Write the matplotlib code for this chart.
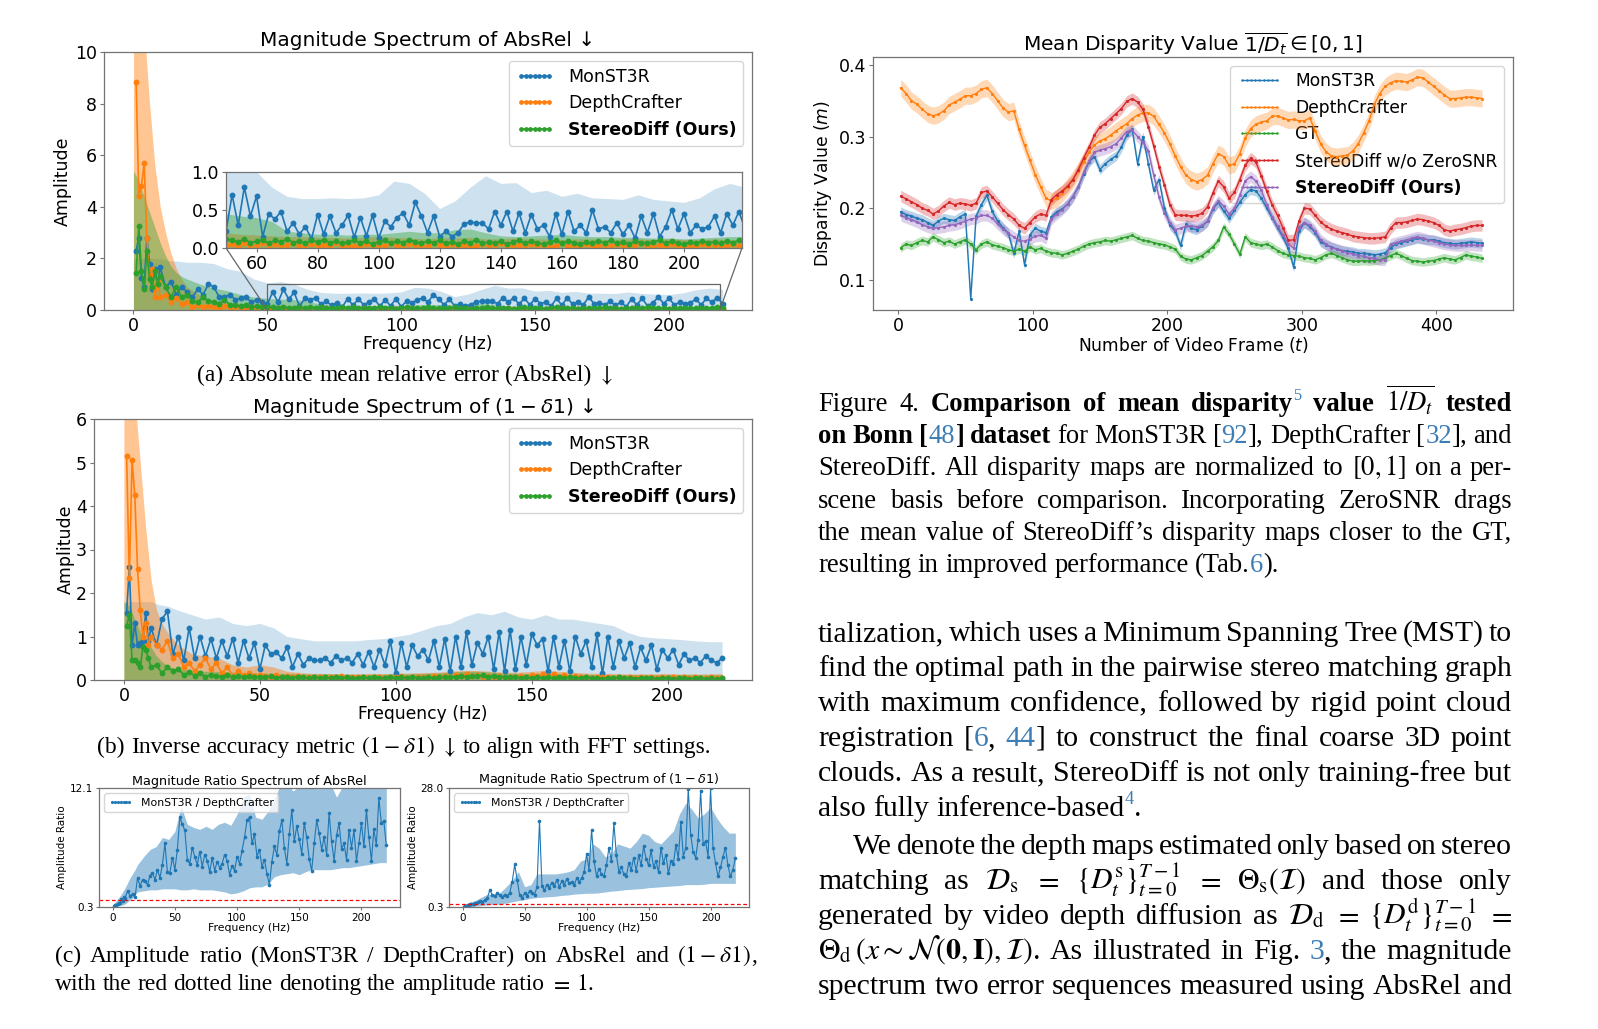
import numpy as np
import matplotlib
matplotlib.use("Agg")
import matplotlib.pyplot as plt
from mpl_toolkits.axes_grid1.inset_locator import mark_inset

W, H = 1598, 1029

# frequency grids (Hz): lines are sampled at FREQ, the std bands at BAND_F
FREQ = np.r_[1:11, 12:221:2]
BAND_F = np.r_[0:21:2, 25:221:5]
# video frames for the disparity plot
FRAMES = np.arange(2, 438, 4)

# ---- (a) magnitude spectrum of AbsRel ----
A_MON = [2.3, 2.8, 1.25, 0.9, 2.8, 1.8, 0.8, 1.6, 1.0, 1.65,
         0.9, 1.1, 0.6, 0.9, 0.7, 0.5, 0.8, 0.6, 1.0, 0.9,
         0.5, 0.5, 0.6, 0.4, 0.45, 0.5, 0.3, 0.4, 0.3, 0.22,
         .70, .30, .80, .42, .68, .15, .45, .38, .48, .22,
         .33, .18, .28, .12, .44, .18, .42, .20, .30, .43,
         .14, .40, .16, .43, .13, .35, .28, .40, .46, .30,
         .60, .42, .20, .42, .15, .22, .15, .20, .32, .34,
         .33, .33, .25, .48, .30, .48, .22, .46, .20, .44,
         .25, .30, .15, .45, .18, .48, .22, .30, .20, .50,
         .25, .28, .20, .33, .18, .30, .13, .42, .20, .45,
         .15, .28, .50, .25, .45, .20, .30, .25, .28, .42,
         .20, .45, .30, .48, .25]
A_DC = [8.85, 4.4, 4.8, 5.7, 2.8, 1.2, 1.6, 0.5, 1.1, 0.5,
        0.6, 0.3, 0.45, 0.25, 0.3, 0.12, 0.2, 0.1, 0.15, 0.12,
        0.08, 0.15, 0.1, 0.12, 0.08, 0.06, 0.1, 0.05, 0.07, 0.04,
        .05, .03, .06, .02, .04, .07, .03, .05, .02, .04,
        .06, .03, .02, .05, .03, .04, .02, .06, .03, .04,
        .02, .03, .05, .02, .04, .03, .06, .02, .03, .05,
        .04, .02, .03, .06, .04, .03, .05, .02, .04, .03,
        .02, .05, .03, .04, .06, .02, .03, .04, .02, .05,
        .03, .04, .02, .03, .06, .02, .04, .03, .05, .02,
        .03, .04, .02, .05, .03, .02, .04, .06, .03, .02,
        .04, .03, .05, .02, .03, .04, .02, .05, .03, .04,
        .02, .03, .05, .02, .03]
A_SD = [1.45, 3.25, 1.5, 0.8, 2.3, 1.2, 0.9, 1.5, 1.0, 1.3,
        0.9, 0.5, 0.9, 0.5, 0.6, 0.35, 0.3, 0.5, 0.35, 0.3,
        0.25, 0.4, 0.2, 0.2, 0.15, 0.18, 0.12, 0.14, 0.1, 0.12,
        .10, .08, .12, .07, .09, .11, .06, .10, .08, .12,
        .07, .09, .06, .10, .08, .11, .07, .09, .06, .08,
        .10, .07, .09, .05, .08, .10, .06, .09, .07, .11,
        .08, .06, .09, .07, .10, .06, .08, .05, .09, .07,
        .11, .06, .08, .07, .09, .05, .08, .10, .06, .09,
        .07, .05, .08, .10, .06, .09, .07, .05, .08, .06,
        .09, .07, .10, .06, .08, .05, .09, .07, .06, .08,
        .10, .06, .09, .07, .05, .08, .06, .09, .07, .08,
        .06, .09, .07, .10, .08]
A_MON_HI = [2.0, 2.0, 2.0, 2.0, 2.0, 2.0, 1.95, 1.9, 1.9, 1.88, 1.85,
            1.85, 1.8, 1.6, 1.5, 1.2, 1.05, 1.1, 1.0, 0.8, 0.68,
            0.65, 0.65, 0.66, 0.65, 0.66, 0.7, 0.88, 0.85, 0.72, 0.52,
            0.62, 0.8, 0.95, 0.85, 0.86, 0.73, 0.76, 0.68, 0.72, 0.66,
            0.65, 0.64, 0.7, 0.64, 0.62, 0.6, 0.66, 0.78, 0.85, 0.8]
A_DC_HI = [12, 12, 11, 8.0, 5.6, 4.0, 3.0, 2.2, 1.6, 1.2, 0.9,
           0.55, 0.38, 0.3, 0.25, 0.22, 0.2, 0.18, 0.17, 0.16, 0.15,
           0.15, 0.14, 0.14, 0.13, 0.14, 0.15, 0.14, 0.13, 0.12, 0.13,
           0.13, 0.14, 0.12, 0.12, 0.13, 0.12, 0.12, 0.11, 0.12, 0.12,
           0.11, 0.12, 0.12, 0.11, 0.12, 0.11, 0.11, 0.12, 0.11, 0.11]
A_SD_HI = [5.4, 5.0, 4.4, 3.8, 3.2, 2.6, 2.1, 1.7, 1.45, 1.3, 1.2,
           1.0, 0.85, 0.75, 0.6, 0.5, 0.45, 0.42, 0.4, 0.35, 0.22,
           0.2, 0.18, 0.18, 0.17, 0.18, 0.18, 0.2, 0.22, 0.2, 0.2,
           0.24, 0.25, 0.2, 0.16, 0.15, 0.16, 0.17, 0.18, 0.16, 0.15,
           0.15, 0.14, 0.14, 0.13, 0.13, 0.12, 0.13, 0.14, 0.15, 0.15]

# ---- (b) magnitude spectrum of (1 - delta1) ----
B_MON = [1.55, 2.6, 0.8, 1.3, 0.8, 0.85, 0.9, 1.55, 0.9, 1.2,
         0.8, 1.4, 1.58, 0.6, 1.0, 0.45, 1.2, 0.5, 1.0, 0.55,
         0.95, 0.5, 0.9, 0.55, 0.95, 0.4, 0.9, 0.5, 0.85, 0.25,
         .8, .6, .65, .5, .75, .3, .6, .35, .5, .45,
         .45, .5, .4, .55, .45, .5, .4, .6, .35, .65,
         .3, .7, .35, .9, .15, .85, .3, .8, .55, .7,
         .45, .9, .3, .95, .2, 1.0, .3, 1.1, .35, .85,
         .6, 1.0, .25, 1.1, .2, 1.15, .25, 1.0, .35, 1.05,
         .8, .95, .2, 1.0, .3, .9, .2, 1.0, .6, .9,
         .3, 1.05, .15, 1.0, .3, .9, .5, .85, .3, .75,
         .45, .8, .25, .7, .5, .7, .35, .6, .45, .5,
         .4, .55, .45, .4, .5]
B_DC = [5.15, 2.35, 5.05, 4.25, 2.55, 1.6, 1.0, 1.3, 0.8, 1.0,
        0.8, 0.7, 0.9, 0.5, 0.6, 0.3, 0.4, 0.2, 0.35, 0.5,
        0.25, 0.4, 0.15, 0.3, 0.1, 0.2, 0.12, 0.15, 0.1, 0.12,
        .10, .08, .12, .06, .09, .07, .10, .05, .08, .06,
        .07, .05, .08, .06, .09, .05, .07, .06, .08, .05,
        .06, .08, .05, .07, .06, .09, .05, .07, .06, .08,
        .06, .09, .07, .10, .08, .12, .10, .13, .09, .11,
        .08, .10, .07, .09, .06, .08, .07, .10, .08, .12,
        .09, .13, .10, .14, .08, .11, .07, .09, .06, .08,
        .05, .07, .06, .08, .05, .07, .04, .06, .05, .07,
        .04, .06, .05, .07, .04, .06, .05, .08, .04, .06,
        .05, .04, .06, .05, .04]
B_SD = [1.25, 1.5, 0.45, 0.45, 0.4, 0.3, 0.75, 0.7, 0.5, 0.3,
        0.35, 0.15, 0.3, 0.2, 0.25, 0.12, 0.18, 0.1, 0.15, 0.08,
        0.12, 0.1, 0.08, 0.12, 0.07, 0.1, 0.06, 0.09, 0.07, 0.08,
        .06, .09, .05, .08, .07, .05, .08, .06, .04, .07,
        .05, .06, .04, .07, .05, .06, .04, .05, .07, .04,
        .06, .05, .04, .06, .05, .07, .04, .06, .05, .04,
        .06, .05, .07, .06, .08, .07, .09, .08, .10, .09,
        .11, .08, .10, .07, .08, .06, .07, .05, .06, .05,
        .07, .05, .06, .04, .06, .05, .07, .04, .05, .06,
        .04, .05, .03, .05, .04, .06, .04, .05, .03, .05,
        .04, .05, .03, .04, .05, .03, .04, .05, .03, .04,
        .05, .03, .04, .03, .04]
B_MON_HI = [1.8, 1.8, 1.8, 1.8, 1.8, 1.8, 1.75, 1.72, 1.7, 1.65, 1.6,
            1.5, 1.4, 1.45, 1.3, 1.25, 1.3, 1.2, 1.0, 0.95, 0.9,
            0.9, 0.9, 0.9, 0.93, 0.95, 1.0, 1.05, 1.15, 1.25, 1.3,
            1.45, 1.55, 1.5, 1.58, 1.45, 1.4, 1.5, 1.4, 1.4, 1.35,
            1.3, 1.25, 1.1, 1.0, 0.97, 0.95, 0.93, 0.9, 0.88, 0.88]
B_DC_HI = [7.0, 7.0, 6.5, 5.0, 3.5, 2.3, 1.6, 1.3, 1.1, 0.95, 0.8,
           0.6, 0.55, 0.5, 0.35, 0.3, 0.35, 0.3, 0.2, 0.17, 0.15,
           0.15, 0.14, 0.14, 0.15, 0.15, 0.15, 0.16, 0.17, 0.18, 0.2,
           0.22, 0.22, 0.2, 0.18, 0.18, 0.2, 0.22, 0.2, 0.18, 0.16,
           0.15, 0.15, 0.14, 0.14, 0.14, 0.15, 0.14, 0.14, 0.14, 0.15]
B_SD_HI = [1.8, 1.7, 1.4, 1.1, 0.95, 0.75, 0.55, 0.42, 0.33, 0.28, 0.25,
           0.22, 0.2, 0.2, 0.18, 0.17, 0.16, 0.15, 0.15, 0.14, 0.14,
           0.14, 0.13, 0.13, 0.13, 0.13, 0.14, 0.14, 0.15, 0.16, 0.18,
           0.2, 0.2, 0.18, 0.16, 0.15, 0.15, 0.14, 0.14, 0.13, 0.13,
           0.12, 0.12, 0.12, 0.12, 0.12, 0.12, 0.12, 0.12, 0.12, 0.12]

# ---- (c) amplitude ratio MonST3R / DepthCrafter ----
C_ABS = [0.4, 0.5, 0.45, 0.6, 0.7, 0.65, 1.1, 0.9, 1.3, 1.2,
         1.9, 1.4, 1.6, 1.3, 3.2, 2.4, 3.0, 2.85, 2.5, 3.4,
         3.7, 3.0, 4.0, 3.2, 4.5, 6.6, 3.8, 3.7, 5.2, 4.0,
         6.0, 9.2, 8.5, 7.9, 5.0, 4.6, 6.2, 5.3, 4.5, 5.8,
         4.3, 5.5, 4.9, 3.8, 5.2, 3.9, 4.8, 4.2, 4.6, 5.5,
         4.9, 3.5, 4.4, 3.9, 5.3, 4.6, 5.9, 7.2, 8.9, 9.2,
         6.6, 7.5, 5.3, 6.0, 4.3, 5.0, 3.6, 2.5, 4.8, 6.3,
         5.5, 7.8, 8.9, 6.2, 4.6, 7.5, 9.9, 6.8, 8.3, 7.0,
         5.6, 8.6, 7.2, 5.1, 3.9, 6.6, 8.9, 7.6, 6.0, 7.2,
         5.5, 9.6, 6.8, 4.9, 7.4, 8.6, 6.1, 6.6, 5.0, 7.9,
         6.2, 7.9, 4.9, 6.6, 8.6, 6.3, 9.9, 7.2, 4.9, 8.0,
         6.4, 11.1, 8.6, 8.8, 6.4]
C_DEL = [0.4, 0.5, 0.6, 0.7, 0.8, 0.9, 1.0, 1.1, 1.0, 1.3,
         1.4, 1.6, 1.5, 2.0, 2.5, 4.3, 3.0, 2.8, 3.5, 3.0,
         2.6, 3.2, 2.9, 3.6, 6.2, 10.2, 6.6, 3.0, 2.4, 3.5,
         2.9, 4.0, 3.6, 3.2, 5.0, 20.4, 5.1, 4.2, 5.5, 4.8,
         6.0, 5.2, 6.6, 5.0, 6.3, 5.5, 6.8, 5.8, 6.2, 5.4,
         7.0, 6.2, 7.0, 8.5, 12.6, 9.0, 18.3, 11.0, 7.5, 9.2,
         8.0, 7.4, 10.0, 14.1, 11.0, 19.8, 12.5, 8.5, 9.6, 8.0,
         7.4, 10.5, 9.0, 11.8, 8.6, 12.4, 10.0, 14.4, 11.5, 10.0,
         13.5, 9.6, 11.0, 8.4, 14.1, 10.5, 12.5, 8.1, 11.0, 10.2,
         14.8, 11.5, 20.1, 12.0, 14.1, 27.8, 17.1, 13.0, 11.8, 16.0,
         27.4, 15.0, 15.6, 12.0, 28.0, 14.1, 10.5, 7.4, 9.5, 12.0,
         14.1, 10.0, 7.4, 9.0, 11.6]
C_ABS_HI = [0.5, 0.8, 1.1, 1.4, 1.8, 2.2, 2.7, 3.2, 3.6, 4.0, 4.5,
            5.3, 6.0, 6.3, 7.2, 7.0, 7.8, 10.3, 8.5, 8.2, 8.0,
            8.3, 8.0, 8.5, 8.7, 8.4, 9.5, 11.2, 11.5, 9.2, 9.0,
            9.8, 11.0, 12.5, 12.5, 11.8, 12.3, 12.5, 12.5, 12.0, 12.5,
            12.5, 11.2, 12.3, 12.5, 12.5, 12.5, 12.5, 12.5, 12.5, 12.5]
C_ABS_LO = [0.3, 0.35, 0.4, 0.45, 0.5, 0.6, 0.8, 1.0, 1.2, 1.5, 1.8,
            1.9, 2.0, 2.0, 2.1, 2.1, 2.1, 2.0, 2.0, 2.1, 2.0,
            2.0, 2.0, 1.9, 1.8, 1.6, 1.7, 1.9, 2.2, 2.3, 2.3,
            2.6, 3.3, 3.5, 3.6, 3.7, 3.5, 3.8, 4.0, 4.0, 4.0,
            4.0, 4.1, 4.2, 4.2, 4.3, 4.4, 4.5, 4.6, 4.7, 4.7]
C_DEL_HI = [0.8, 1.0, 1.2, 1.4, 1.6, 1.8, 2.1, 2.4, 2.7, 3.0, 3.2,
            3.4, 3.6, 5.0, 6.5, 8.5, 5.0, 5.5, 8.0, 8.0, 8.0,
            8.0, 8.2, 8.5, 9.0, 11.0, 11.5, 15.0, 14.0, 12.0, 12.5,
            15.0, 14.5, 14.0, 15.5, 17.5, 17.0, 15.5, 15.0, 16.5, 18.0,
            22.0, 24.5, 23.0, 21.0, 22.0, 23.5, 21.0, 19.0, 17.5, 17.5]
C_DEL_LO = [0.3, 0.3, 0.35, 0.4, 0.45, 0.5, 0.55, 0.6, 0.7, 0.75, 0.8,
            0.9, 1.0, 1.2, 1.5, 1.8, 2.0, 2.3, 2.5, 2.6, 2.7,
            2.8, 3.0, 3.1, 3.3, 3.4, 3.5, 3.5, 3.6, 3.8, 4.0,
            4.1, 4.3, 4.4, 4.5, 4.6, 4.8, 4.9, 5.0, 5.1, 5.2,
            5.3, 5.5, 5.5, 5.5, 5.6, 5.8, 5.8, 5.8, 5.8, 5.8]

# ---- mean disparity per frame (Bonn) ----
D_MON = [.195, .191, .189, .186, .184, .180, .176, .182, .186, .184,
         .183, .188, .192, .074, .189, .205, .218, .196, .182, .173,
         .165, .137, .168, .121, .163, .172, .168, .166, .188, .195,
         .199, .206, .216, .230, .248, .265, .272, .254, .262, .268,
         .273, .285, .302, .310, .262, .300, .262, .225, .240, .200,
         .177, .168, .148, .178, .172, .170, .175, .182, .199, .208,
         .196, .186, .197, .208, .219, .226, .224, .214, .200, .187,
         .173, .160, .144, .118, .168, .180, .174, .166, .153, .149,
         .146, .143, .141, .140, .139, .137, .137, .136, .135, .136,
         .138, .145, .150, .152, .154, .156, .158, .157, .156, .156,
         .154, .152, .151, .150, .151, .152, .153, .152, .151]
D_DC = [.368, .360, .350, .345, .338, .332, .329, .331, .336, .344,
        .348, .352, .357, .357, .360, .366, .368, .360, .350, .340,
        .334, .336, .310, .288, .267, .247, .230, .214, .210, .214,
        .221, .230, .240, .252, .265, .278, .288, .294, .297, .302,
        .308, .313, .318, .325, .330, .333, .333, .328, .317, .305,
        .290, .273, .258, .246, .240, .237, .240, .246, .262, .276,
        .272, .260, .262, .276, .298, .311, .317, .320, .322, .328,
        .329, .326, .323, .324, .322, .322, .326, .308, .290, .279,
        .273, .272, .273, .274, .280, .290, .305, .322, .345, .360,
        .370, .375, .378, .377, .376, .379, .383, .382, .376, .370,
        .364, .358, .353, .353, .354, .355, .355, .354, .353]
D_GT = [.145, .150, .148, .152, .155, .153, .160, .156, .152, .154,
        .150, .153, .156, .150, .142, .150, .153, .149, .147, .145,
        .142, .140, .143, .140, .146, .142, .144, .140, .138, .137,
        .135, .137, .140, .143, .147, .150, .152, .153, .155, .154,
        .156, .158, .160, .162, .158, .155, .154, .152, .150, .149,
        .146, .143, .133, .129, .128, .131, .134, .140, .146, .155,
        .174, .164, .150, .136, .160, .152, .150, .148, .150, .146,
        .141, .137, .135, .134, .133, .131, .130, .128, .131, .135,
        .137, .134, .131, .128, .126, .126, .127, .126, .127, .128,
        .130, .134, .137, .134, .130, .127, .126, .125, .126, .127,
        .129, .131, .129, .128, .131, .135, .133, .132, .130]
D_NOZSNR = [.217, .213, .209, .205, .200, .197, .192, .196, .203, .208,
            .205, .207, .206, .204, .207, .222, .224, .216, .207, .198,
            .191, .185, .176, .172, .180, .188, .192, .190, .212, .219,
            .224, .231, .240, .254, .270, .285, .302, .313, .318, .325,
            .332, .339, .349, .353, .348, .338, .314, .287, .258, .232,
            .205, .191, .190, .190, .189, .190, .193, .202, .221, .238,
            .230, .214, .222, .240, .260, .270, .264, .245, .224, .205,
            .190, .173, .155, .156, .182, .200, .199, .190, .181, .175,
            .171, .168, .166, .164, .161, .160, .159, .158, .158, .159,
            .160, .172, .180, .180, .181, .183, .185, .184, .182, .180,
            .176, .170, .168, .170, .171, .173, .175, .176, .176]
D_OURS = [.190, .187, .184, .181, .177, .174, .172, .173, .174, .176,
          .177, .179, .182, .185, .186, .190, .190, .186, .178, .171,
          .165, .160, .155, .154, .157, .161, .162, .158, .185, .192,
          .198, .206, .216, .230, .250, .266, .278, .281, .283, .286,
          .290, .298, .307, .309, .300, .292, .280, .246, .215, .193,
          .180, .170, .172, .175, .175, .174, .176, .182, .200, .210,
          .203, .192, .200, .218, .238, .244, .238, .225, .205, .188,
          .175, .163, .150, .144, .174, .180, .176, .168, .156, .150,
          .145, .143, .140, .138, .136, .134, .133, .131, .130, .128,
          .128, .150, .152, .154, .156, .158, .160, .158, .156, .154,
          .152, .150, .149, .148, .148, .148, .149, .148, .148]
# std of each disparity curve (shaded band half width)
D_STD = [0.007, 0.012, 0.006, 0.008, 0.008]

C_MON, C_DC, C_SD, C_RED, C_PUR = "#1f77b4", "#ff7f0e", "#2ca02c", "#d62728", "#9467bd"
SPINE = "0.45"
SERIF = "Liberation Serif"
CITE = "#3d7db6"

fig = plt.figure(figsize=(W / 100, H / 100), dpi=100)


def box(l, t, r, b):
    return [l / W, 1 - b / H, (r - l) / W, (b - t) / H]


def tidy(ax, tick=12.5):
    for s in ax.spines.values():
        s.set_color(SPINE)
        s.set_linewidth(0.9)
    ax.tick_params(labelsize=tick, color=SPINE, length=3, pad=2)


def spectrum(ax, lines, bands, fill_alpha):
    names = ["MonST3R", "DepthCrafter", "StereoDiff (Ours)"]
    cols = [C_MON, C_DC, C_SD]
    for name, y, hi, col, a in zip(names, lines, bands, cols, fill_alpha):
        ax.fill_between(BAND_F, 0, hi, color=col, alpha=a, lw=0)
        ax.plot(FREQ, y, color=col, marker="o", ms=3.2, lw=1.2, label=name)


# ---------------- (a) ----------------
ax = fig.add_axes(box(104, 52, 752, 310))
spectrum(ax, [A_MON, A_DC, A_SD], [A_MON_HI, A_DC_HI, A_SD_HI], [0.22, 0.45, 0.4])
ax.set_xlim(-11, 231)
ax.set_ylim(0, 10)
ax.set_yticks(range(0, 11, 2))
ax.set_xticks(range(0, 201, 50))
ax.set_title("Magnitude Spectrum of AbsRel ↓", fontsize=14.5, pad=4)
ax.set_xlabel("Frequency (Hz)", fontsize=12.3, labelpad=0)
ax.set_ylabel("Amplitude", fontsize=12.5, labelpad=2)
tidy(ax)
leg = ax.legend(loc="upper right", fontsize=12.5, numpoints=7, handlelength=2.2,
                markerscale=0.75)
leg.get_texts()[-1].set_fontweight("bold")

axin = fig.add_axes(box(226, 172, 742, 248))
spectrum(axin, [A_MON, A_DC, A_SD], [A_MON_HI, A_DC_HI, A_SD_HI], [0.22, 0.45, 0.4])
axin.set_xlim(50, 219)
axin.set_ylim(0, 1)
axin.set_yticks([0, 0.5, 1.0])
axin.set_xticks(range(60, 201, 20))
tidy(axin, 12.5)
mark_inset(ax, axin, loc1=3, loc2=4, fc="none", ec="0.4", lw=0.9)

# ---------------- (b) ----------------
ax = fig.add_axes(box(94, 419, 752, 680))
spectrum(ax, [B_MON, B_DC, B_SD], [B_MON_HI, B_DC_HI, B_SD_HI], [0.22, 0.45, 0.4])
ax.set_xlim(-11, 231)
ax.set_ylim(0, 6)
ax.set_xticks(range(0, 201, 50))
ax.set_title(r"Magnitude Spectrum of $(1-\delta1)$ ↓", fontsize=14.5, pad=4)
ax.set_xlabel("Frequency (Hz)", fontsize=12.3, labelpad=0)
ax.set_ylabel("Amplitude", fontsize=12.5, labelpad=1)
tidy(ax)
leg = ax.legend(loc="upper right", fontsize=12.5, numpoints=7, handlelength=2.2,
                markerscale=0.75)
leg.get_texts()[-1].set_fontweight("bold")

# ---------------- (c) ----------------
for (l, r), y, lo, hi, top, title in [
        ((99, 400), C_ABS, C_ABS_LO, C_ABS_HI, 12.1, "Magnitude Ratio Spectrum of AbsRel"),
        ((449, 749), C_DEL, C_DEL_LO, C_DEL_HI, 28.0, r"Magnitude Ratio Spectrum of $(1-\delta1)$")]:
    ax = fig.add_axes(box(l, 788, r, 907))
    ax.fill_between(BAND_F, lo, hi, color=C_MON, alpha=0.45, lw=0)
    ax.plot(FREQ, y, color=C_MON, marker="o", ms=1.6, lw=0.8, label="MonST3R / DepthCrafter")
    ax.axhline(1.0, color="red", ls=(0, (3, 2)), lw=0.9)
    ax.set_xlim(-11, 231)
    ax.set_ylim(0.3, top)
    ax.set_yticks([0.3, top])
    ax.set_yticklabels(["0.3", f"{top:.1f}"])
    ax.set_xticks(range(0, 201, 50))
    ax.set_title(title, fontsize=9.2, pad=2)
    ax.set_xlabel("Frequency (Hz)", fontsize=7.8, labelpad=0)
    ax.set_ylabel("Amplitude Ratio", fontsize=7.5, labelpad=2)
    tidy(ax, 7.5)
    ax.tick_params(length=2.5, pad=1.5)
    ax.legend(loc="upper left", fontsize=7.8, numpoints=7, handlelength=2.2, markerscale=0.8)

# ---------------- disparity plot ----------------
ax = fig.add_axes(box(873, 57, 1513, 310))
for name, y, col, sd in zip(
        ["MonST3R", "DepthCrafter", "GT", "StereoDiff w/o ZeroSNR", "StereoDiff (Ours)"],
        [D_MON, D_DC, D_GT, D_NOZSNR, D_OURS],
        [C_MON, C_DC, C_SD, C_RED, C_PUR], D_STD):
    y = np.array(y)
    ax.fill_between(FRAMES, y - sd, y + sd, color=col, alpha=0.3, lw=0)
    ax.plot(FRAMES, y, color=col, lw=1.0, marker=".", ms=2.5, label=name)
ax.set_xlim(-18.6, 457)
ax.set_ylim(0.058, 0.411)
ax.set_yticks([0.1, 0.2, 0.3, 0.4])
ax.set_xticks(range(0, 401, 100))
ax.set_title(r"Mean Disparity Value $\overline{1/D_t}\in[0,1]$", fontsize=14.5, pad=4)
ax.set_xlabel(r"Number of Video Frame ($t$)", fontsize=12.3, labelpad=0)
ax.set_ylabel(r"Disparity Value ($m$)", fontsize=12.3, labelpad=3)
tidy(ax)
leg = ax.legend(loc="upper right", fontsize=12.3, numpoints=9, handlelength=2.6,
                markerscale=0.6, labelspacing=0.5)
leg.get_texts()[-1].set_fontweight("bold")
leg.set_zorder(0.5)


# ---------------- text (captions and body) ----------------
renderer = fig.canvas.get_renderer()


def text_line(words, x0, base, size, x1=None, center=False):
    """words: list of strings; '|' splits pieces; prefix * bold, @ cite colour, ^ superscript"""
    placed = []
    for word in words:
        parts, off = [], 0.0
        for piece in word.split("|"):
            kind = ""
            while piece[:1] in ("*", "@", "^") and piece:
                kind += piece[0]
                piece = piece[1:]
            sup = "^" in kind
            fs = size * (0.62 if sup else 1.0)
            yb = base - (size * 0.42 * 100 / 72 if sup else 0)
            t = fig.text(0, 1 - yb / H, piece, fontsize=fs, family=SERIF,
                         math_fontfamily="stix", va="baseline", ha="left",
                         fontweight="bold" if "*" in kind else "normal",
                         color=CITE if ("@" in kind or sup) else "black")
            parts.append((t, off))
            off += t.get_window_extent(renderer).width
        placed.append((parts, off))
    total = sum(w for _, w in placed)
    n = len(placed)
    gap = size * 0.25 * 100 / 72
    if x1 is not None and n > 1:
        gap = (x1 - x0 - total) / (n - 1)
    x = x0 - (total + gap * (n - 1)) / 2 if center else x0
    for parts, w in placed:
        for t, o in parts:
            t.set_x((x + o) / W)
        x += w + gap


SUB = 16.9
text_line(["(a)", "Absolute", "mean", "relative", "error", "(AbsRel)", r"$\downarrow$"],
          405, 381, SUB, center=True)
text_line(["(b)", "Inverse", "accuracy", "metric", r"$(1-\delta1)$", r"$\downarrow$", "to",
           "align", "with", "FFT", "settings."], 404, 753, SUB, center=True)
text_line(["(c)", "Amplitude", "ratio", "(MonST3R", "/", "DepthCrafter)", "on", "AbsRel",
           "and", r"$(1-\delta1)$|,"], 55, 962, SUB, x1=757)
text_line(["with", "the", "red", "dotted", "line", "denoting", "the", "amplitude", "ratio",
           "$=$", "$1$|."], 55, 990, SUB)

CAP = 19.2
cap_lines = [
    ["Figure", "4.", "*Comparison", "*of", "*mean", "*disparity|^5", "*value",
     r"$\overline{1/D_t}$", "*tested"],
    ["*on", "*Bonn", "*[|@48|*]", "*dataset", "for", "MonST3R", "[|@92|],",
     "DepthCrafter", "[|@32|],", "and"],
    ["StereoDiff.", "All", "disparity", "maps", "are", "normalized", "to", "$[0,1]$",
     "on", "a", "per-"],
    "scene basis before comparison.  Incorporating ZeroSNR drags".split(),
    "the mean value of StereoDiff’s disparity maps closer to the GT,".split(),
]
for i, words in enumerate(cap_lines):
    text_line(words, 818, 411 + i * 32.2, CAP, x1=1512)
text_line(["resulting", "in", "improved", "performance", "(Tab.|@6|)."], 818, 572, CAP)

BODY = 21.4
body = [
    (641, "tialization, which uses a Minimum Spanning Tree (MST) to".split(), True),
    (676, "find the optimal path in the pairwise stereo matching graph".split(), True),
    (711, "with maximum confidence, followed by rigid point cloud".split(), True),
    (746, ["registration", "[|@6|,", "@44|]", "to", "construct", "the", "final", "coarse",
           "3D", "point"], True),
    (781, "clouds. As a result, StereoDiff is not only training-free but".split(), True),
    (816, ["also", "fully", "inference-based|^4|."], False),
    (854, "We denote the depth maps estimated only based on stereo".split(), True),
    (889, ["matching", "as", r"$\mathcal{D}_\mathrm{s}$", "$=$",
           r"$\{D^\mathrm{s}_t\}_{t=0}^{T-1}$", "$=$", r"$\Theta_\mathrm{s}(\mathcal{I})$",
           "and", "those", "only"], True),
    (924, ["generated", "by", "video", "depth", "diffusion", "as", r"$\mathcal{D}_\mathrm{d}$",
           "$=$", r"$\{D^\mathrm{d}_t\}_{t=0}^{T-1}$", "$=$"], True),
    (959, [r"$\Theta_\mathrm{d}\,(x\sim\mathcal{N}(\mathbf{0},\mathbf{I}),\mathcal{I})$|.",
           "As", "illustrated", "in", "Fig.", "@3|,", "the", "magnitude"], True),
    (994, "spectrum two error sequences measured using AbsRel and".split(), True),
]
for base, words, just in body:
    x0 = 853 if words[0] == "We" else 818
    text_line(words, x0, base, BODY, x1=1512 if just else None)

fig.savefig("out.png", dpi=100)
